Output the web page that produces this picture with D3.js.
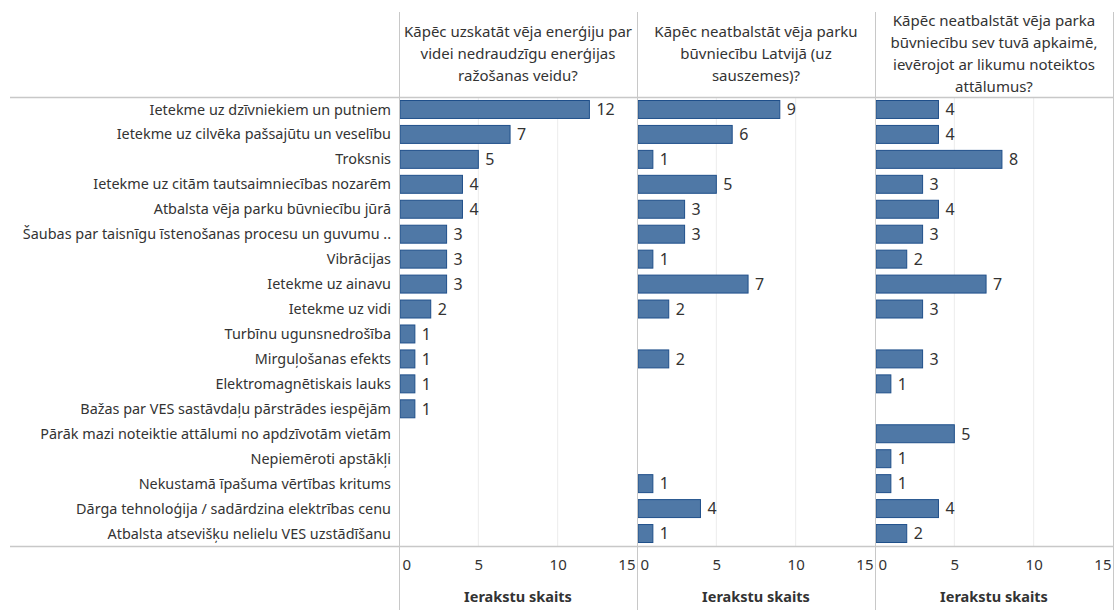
<!DOCTYPE html>
<html>
<head>
<meta charset="utf-8">
<script src="https://cdn.jsdelivr.net/npm/d3@7"></script>
<style>
	body { margin: 0; background: #fff; }
	text { font-family: "Noto Sans", "DejaVu Sans", sans-serif; fill: #333; }
</style>
</head>
<body>
<div id="chart"></div>
<script>
// row categories, top to bottom
var categories = [
	"Ietekme uz dzīvniekiem un putniem",
	"Ietekme uz cilvēka pašsajūtu un veselību",
	"Troksnis",
	"Ietekme uz citām tautsaimniecības nozarēm",
	"Atbalsta vēja parku būvniecību jūrā",
	"Šaubas par taisnīgu īstenošanas procesu un guvumu ..",
	"Vibrācijas",
	"Ietekme uz ainavu",
	"Ietekme uz vidi",
	"Turbīnu ugunsnedrošība",
	"Mirguļošanas efekts",
	"Elektromagnētiskais lauks",
	"Bažas par VES sastāvdaļu pārstrādes iespējām",
	"Pārāk mazi noteiktie attālumi no apdzīvotām vietām",
	"Nepiemēroti apstākļi",
	"Nekustamā īpašuma vērtības kritums",
	"Dārga tehnoloģija / sadārdzina elektrības cenu",
	"Atbalsta atsevišķu nelielu VES uzstādīšanu"
];

// one series per question (null = no answer)
var q1Values = [12, 7, 5, 4, 4, 3, 3, 3, 2, 1, 1, 1, 1, null, null, null, null, null];
var q2Values = [9, 6, 1, 5, 3, 3, 1, 7, 2, null, 2, null, null, null, null, 1, 4, 1];
var q3Values = [4, 4, 8, 3, 4, 3, 2, 7, 3, null, 3, 1, null, 5, 1, 1, 4, 2];

// header texts, already wrapped like the original
var q1Header = ["Kāpēc uzskatāt vēja enerģiju par", "videi nedraudzīgu enerģijas", "ražošanas veidu?"];
var q2Header = ["Kāpēc neatbalstāt vēja parku", "būvniecību Latvijā (uz", "sauszemes)?"];
var q3Header = ["Kāpēc neatbalstāt vēja parka", "būvniecību sev tuvā apkaimē,", "ievērojot ar likumu noteiktos", "attālumus?"];

var tickValues = [0, 5, 10, 15];
var axisTitle = "Ierakstu skaits";

var panels = [
	{ header: q1Header, values: q1Values },
	{ header: q2Header, values: q2Values },
	{ header: q3Header, values: q3Values }
];

var width = 1115, height = 610;
var labelRight = 399;      // where the first panel starts
var panelW = 238;          // width of one panel
var headTop = 12, rowsTop = 97, rowsBottom = 546;
var lineCol = "#c8c8c8";

var svg = d3.select("#chart").append("svg")
	.attr("width", width)
	.attr("height", height);

// row scale shared by all panels
var y = d3.scaleBand()
	.domain(categories)
	.range([rowsTop, rowsBottom])
	.paddingInner(0.28)
	.paddingOuter(0.14);

// category labels
svg.append("g").selectAll("text")
	.data(categories)
	.join("text")
	.attr("x", labelRight - 8)
	.attr("y", function (d) { return y(d) + y.bandwidth() / 2; })
	.attr("dy", "0.35em")
	.attr("text-anchor", "end")
	.attr("font-size", 14.4)
	.text(function (d) { return d; });

panels.forEach(function (p, i) {
	var x0 = labelRight + i * panelW;
	var x = d3.scaleLinear().domain([0, 15]).range([x0, x0 + panelW]);
	var g = svg.append("g");

	// light gridlines inside the rows area
	g.selectAll("line.grid")
		.data(tickValues.slice(1, 3))
		.join("line")
		.attr("class", "grid")
		.attr("x1", function (d) { return x(d); })
		.attr("x2", function (d) { return x(d); })
		.attr("y1", rowsTop)
		.attr("y2", rowsBottom)
		.attr("stroke", "#ececec");

	// header lines, centred in the panel
	var lh = 22;
	var hy = 54 - (p.header.length - 1) * lh / 2;
	g.selectAll("text.head")
		.data(p.header)
		.join("text")
		.attr("class", "head")
		.attr("x", x0 + panelW / 2)
		.attr("y", function (d, k) { return hy + k * lh; })
		.attr("dy", "0.35em")
		.attr("text-anchor", "middle")
		.attr("font-size", 15)
		.text(function (d) { return d; });

	var rows = categories.map(function (c, k) { return { cat: c, v: p.values[k] }; })
		.filter(function (d) { return d.v !== null; });

	// bars
	g.selectAll("rect")
		.data(rows)
		.join("rect")
		.attr("x", x(0) + 1)
		.attr("y", function (d) { return y(d.cat); })
		.attr("width", function (d) { return x(d.v) - x(0) - 1; })
		.attr("height", y.bandwidth())
		.attr("fill", "#4f78a6")
		.attr("stroke", "#1f4f8a")
		.attr("stroke-width", 1);

	// value labels
	g.selectAll("text.val")
		.data(rows)
		.join("text")
		.attr("class", "val")
		.attr("x", function (d) { return x(d.v) + 7; })
		.attr("y", function (d) { return y(d.cat) + y.bandwidth() / 2; })
		.attr("dy", "0.36em")
		.attr("font-size", 16)
		.attr("fill", "#222")
		.text(function (d) { return d.v; });

	// axis below the rows
	var axis = g.append("g")
		.attr("transform", "translate(0," + rowsBottom + ")")
		.call(d3.axisBottom(x).tickValues(tickValues).tickSize(0).tickPadding(13));
	axis.select(".domain").remove();
	axis.selectAll("text")
		.attr("font-size", 15)
		.attr("fill", "#444")
		.style("font-family", "\"Noto Sans\", sans-serif")
		.attr("text-anchor", function (d) { return d === 0 ? "start" : (d === 15 ? "end" : "middle"); })
		.attr("dx", function (d) { return d === 0 ? 3 : (d === 15 ? -2 : 0); });

	g.append("text")
		.attr("x", x0 + panelW / 2)
		.attr("y", 597)
		.attr("dy", "0.35em")
		.attr("text-anchor", "middle")
		.attr("font-size", 14.5)
		.attr("font-weight", "bold")
		.attr("fill", "#222")
		.text(axisTitle);
});

// frame lines
var frame = svg.append("g").attr("stroke", lineCol);
frame.selectAll("line.v")
	.data([0, 1, 2, 3])
	.join("line")
	.attr("x1", function (d) { return labelRight + d * panelW + 0.5; })
	.attr("x2", function (d) { return labelRight + d * panelW + 0.5; })
	.attr("y1", headTop)
	.attr("y2", height);
frame.selectAll("line.h")
	.data([rowsTop, rowsBottom])
	.join("line")
	.attr("x1", 10)
	.attr("x2", labelRight + 3 * panelW)
	.attr("y1", function (d) { return d + 0.5; })
	.attr("y2", function (d) { return d + 0.5; })
	.attr("stroke-width", 1.5);
</script>
</body>
</html>
